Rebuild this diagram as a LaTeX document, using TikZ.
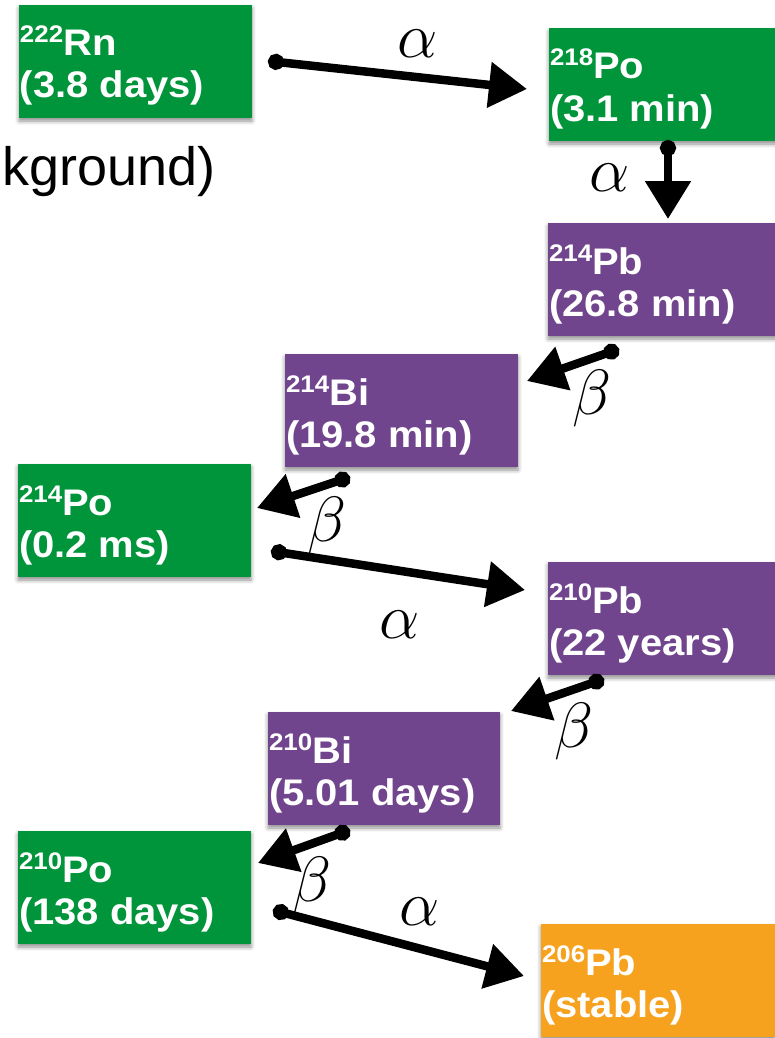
\RequirePackage{fix-cm}
\documentclass[tikz,border=0pt]{standalone}
\usepackage{fontspec}
\setmainfont{Liberation Sans}
\newfontfamily\boxfont{Liberation Sans}[FakeStretch=1.08]
\newfontfamily\bgfont{Liberation Sans}
\usetikzlibrary{arrows.meta,shadows.blur}
\definecolor{nucgreen}{RGB}{0,149,58}
\definecolor{nucpurple}{RGB}{113,69,141}
\definecolor{nucorange}{RGB}{247,162,31}
\newcommand\isot[1]{\raisebox{13pt}{\fontsize{24}{24}\selectfont #1}}
\newcommand\nucl[4]{\parbox[t][113pt][t]{#4}{\boxfont\bfseries\fontsize{37}{42}\selectfont\hspace*{1pt}\rule{0pt}{51pt}\isot{#1}#2\par\hspace*{1pt}#3}}
\tikzset{
  nuc/.style={anchor=north west, inner sep=0pt, outer sep=0pt, text=white,
    blur shadow={shadow xshift=0pt, shadow yshift=-3pt, shadow blur radius=4pt, shadow opacity=45}},
  decay/.style={line width=8.5pt, {Circle[length=16pt]}-{Triangle[length=38pt,width=44pt]}},
  greek/.style={inner sep=0pt, font=\fontsize{64}{64}\selectfont},
}
\begin{document}
\begin{tikzpicture}[x=1pt,y=-1pt]
\useasboundingbox (0,0) rectangle (775,1038);
% background fragment
\node[anchor=base east, inner sep=0pt, font=\bgfont\fontsize{54}{60}\selectfont] (bg) at (216,185) {kground)};
% nuclide boxes
\node[nuc, fill=nucgreen]  (rn222) at (19,5)   {\nucl{222}{Rn}{(3.8 days)}{233pt}};
\node[nuc, fill=nucgreen]  (po218) at (549,28) {\nucl{218}{Po}{(3.1 min)}{233pt}};
\node[nuc, fill=nucpurple] (pb214) at (548,223) {\nucl{214}{Pb}{(26.8 min)}{233pt}};
\node[nuc, fill=nucpurple] (bi214) at (285,354) {\nucl{214}{Bi}{(19.8 min)}{233pt}};
\node[nuc, fill=nucgreen]  (po214) at (18,464) {\nucl{214}{Po}{(0.2 ms)}{233pt}};
\node[nuc, fill=nucpurple] (pb210) at (548,562) {\nucl{210}{Pb}{(22 years)}{233pt}};
\node[nuc, fill=nucpurple] (bi210) at (268,712) {\nucl{210}{Bi}{(5.01 days)}{232pt}};
\node[nuc, fill=nucgreen]  (po210) at (18,831) {\nucl{210}{Po}{(138 days)}{233pt}};
\node[nuc, fill=nucorange] (pb206) at (541,924) {\nucl{206}{Pb}{(stable)}{234pt}};
% connector end points
\coordinate (s1) at (268,61);  \coordinate (t1) at (527,89);
\coordinate (s2) at (668,140); \coordinate (t2) at (668,219);
\coordinate (s3) at (619,349); \coordinate (t3) at (527,381);
\coordinate (s4) at (350,477); \coordinate (t4) at (257,508);
\coordinate (s5) at (271,551); \coordinate (t5) at (525,590);
\coordinate (s6) at (604,679); \coordinate (t6) at (511,711);
\coordinate (s7) at (350,830); \coordinate (t7) at (258,863);
\coordinate (s8) at (273,910); \coordinate (t8) at (524,976);
% connectors
\draw[decay] (s1) -- (t1);
\draw[decay] (s2) -- (t2);
\draw[decay] (s3) -- (t3);
\draw[decay] (s4) -- (t4);
\draw[decay] (s5) -- (t5);
\draw[decay] (s6) -- (t6);
\draw[decay] (s7) -- (t7);
\draw[decay] (s8) -- (t8);
% labels
\node[greek] (a1) at (418,44)  {$\alpha$};
\node[greek] (a2) at (610,178) {$\alpha$};
\node[greek] (b3) at (592,398) {$\beta$};
\node[greek] (b4) at (327,525) {$\beta$};
\node[greek] (a5) at (400,625) {$\alpha$};
\node[greek] (b6) at (574,731) {$\beta$};
\node[greek] (b7) at (312,885) {$\beta$};
\node[greek] (a8) at (420,912) {$\alpha$};
\end{tikzpicture}
\end{document}
